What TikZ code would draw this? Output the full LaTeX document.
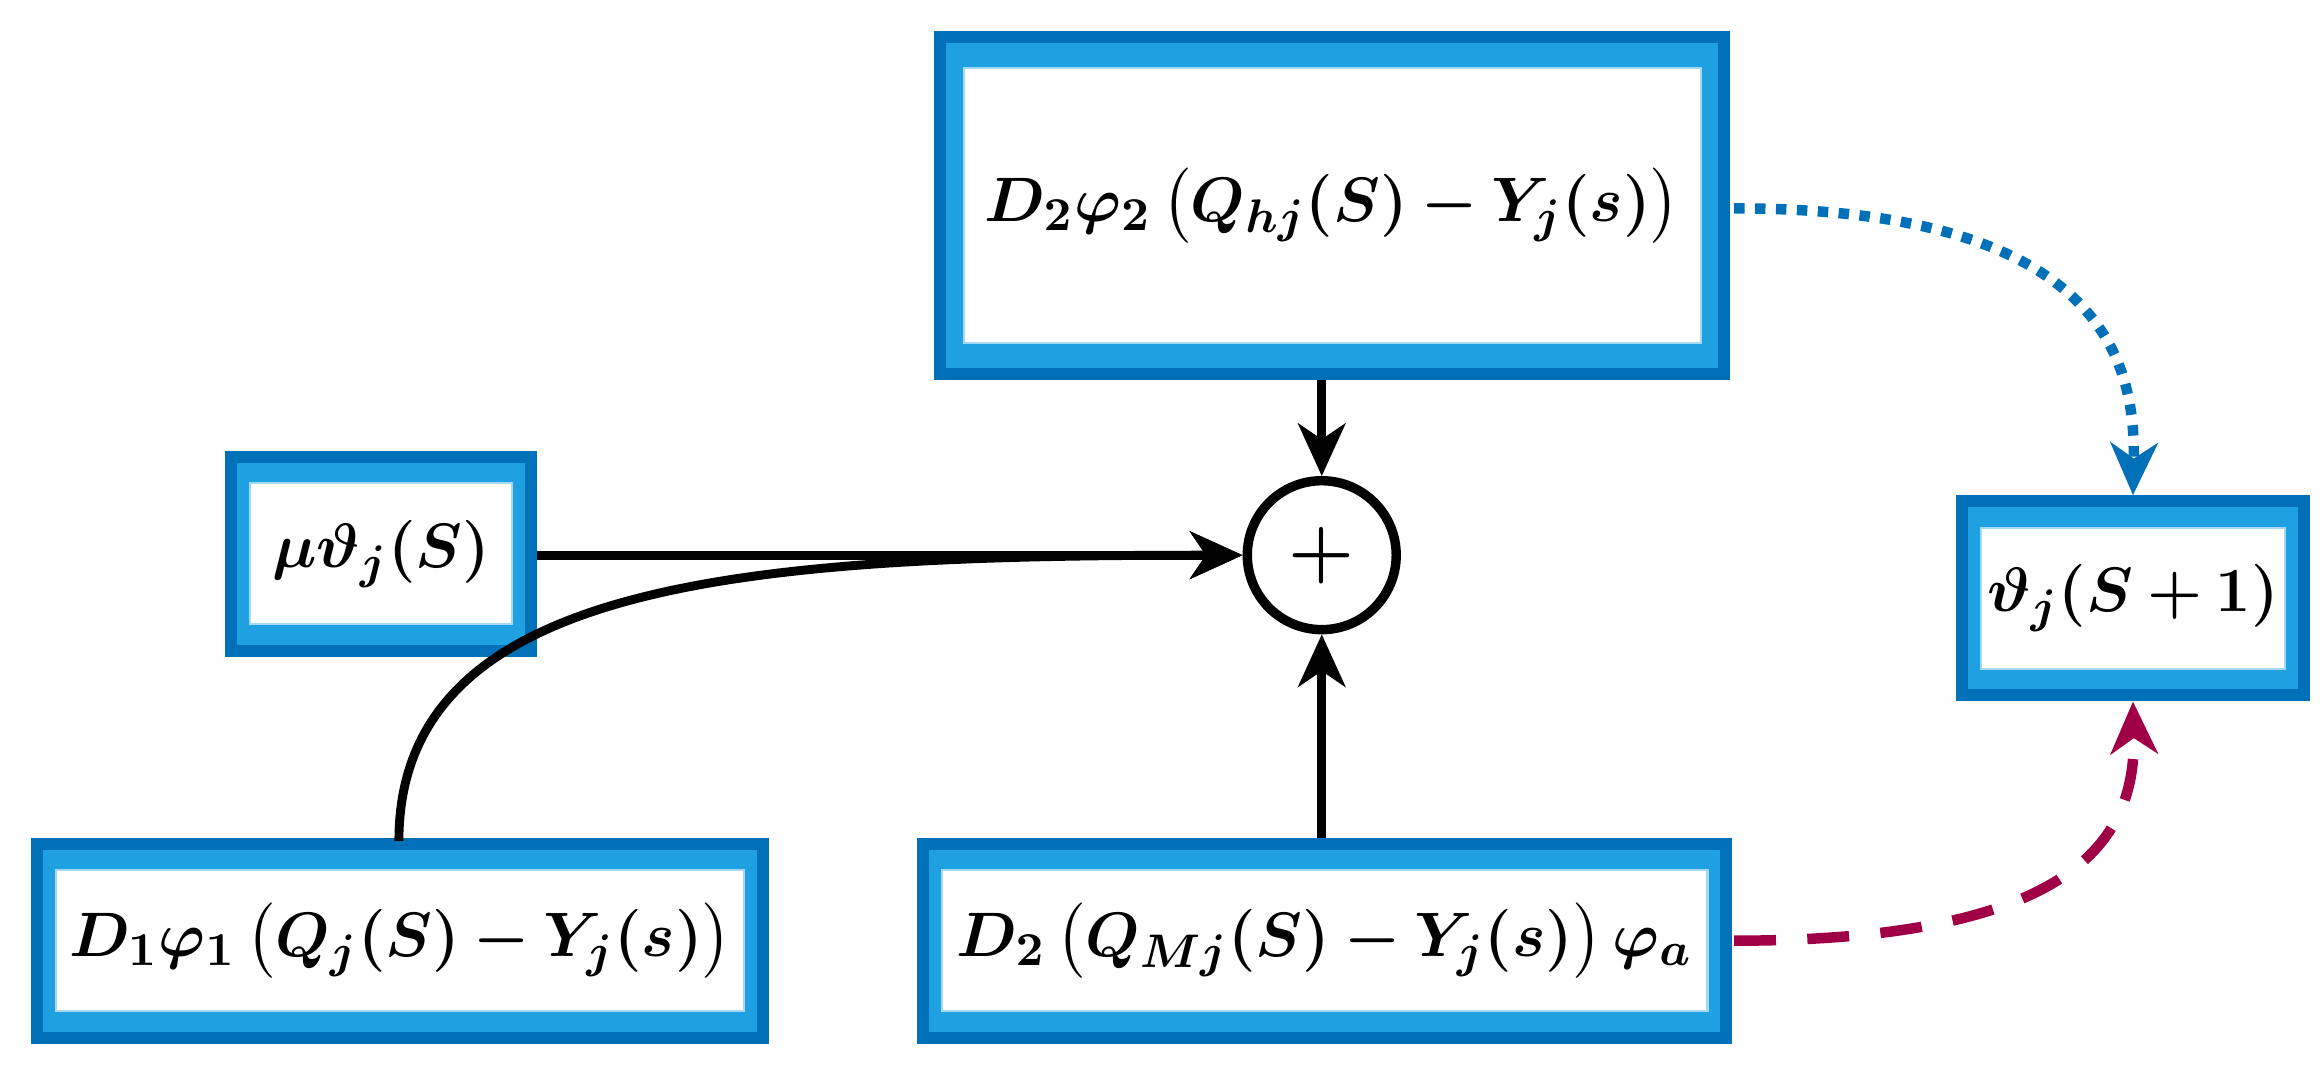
\documentclass[tikz,border=0pt]{standalone}
\usepackage{amsmath,bm}
\usetikzlibrary{arrows.meta,fit,backgrounds}
\definecolor{dblue}{RGB}{0,112,184}
\definecolor{lblue}{RGB}{30,160,225}
\definecolor{wine}{RGB}{160,0,70}
\begin{document}
\begin{tikzpicture}[x=0.01cm,y=-0.01cm,
  inner/.style={draw=lblue!40,line width=0.4pt,fill=white,inner sep=0pt,font=\fontsize{13}{15}\selectfont},
  outer/.style={draw=dblue,line width=2.3pt,fill=lblue,inner xsep=0.12cm,inner ysep=0.17cm},
  conn/.style={line width=1.7pt,-{Stealth[length=10pt,width=9pt,inset=3pt]}}]
\useasboundingbox (0,0) rectangle (1560,716);
\node[inner,minimum width=4.95cm,minimum height=1.85cm] (ti) at (895,138) {$\bm{D_2\varphi_2\left(Q_{hj}(S)-Y_j(s)\right)}$};
\node[inner,minimum width=1.76cm,minimum height=0.95cm] (mi) at (256,372) {$\bm{\mu\vartheta_j(S)}$};
\node[inner,minimum width=2.04cm,minimum height=0.95cm] (ri) at (1433,402) {$\bm{\vartheta_j(S+1)}$};
\node[inner,minimum width=4.62cm,minimum height=0.95cm] (ai) at (269,632) {$\bm{D_1\varphi_1\left(Q_j(S)-Y_j(s)\right)}$};
\node[inner,minimum width=5.14cm,minimum height=0.95cm] (bi) at (890,632) {$\bm{D_2\left(Q_{Mj}(S)-Y_j(s)\right)\varphi_a}$};
\begin{scope}[on background layer]
\node[outer,inner xsep=0.15cm,inner ysep=0.2cm,fit=(ti)] (top) {};
\node[outer,fit=(mi)] (mu) {};
\node[outer,fit=(ri)] (res) {};
\node[outer,fit=(ai)] (d1) {};
\node[outer,fit=(bi)] (d2) {};
\end{scope}
\node[circle,draw,line width=1.8pt,minimum size=1cm,inner sep=0pt,font=\Large] (sum) at (888,373) {$\bm{+}$};
\draw[conn] (top.south -| sum) -- (sum.north);
\draw[conn] (mu.east |- sum) -- (sum.west);
\draw[conn] (d2.north -| sum) -- (sum.south);
\draw[conn] (268,565) coordinate (s1) .. controls (268,390) and (500,373) .. (sum.west);
\coordinate (tp) at (1165,140);
\coordinate (dp) at (1165,632);
\draw[dblue,line width=2pt,dotted,-{Stealth[length=10pt,width=9pt,inset=3pt]}] (tp) .. controls (1410,140) and (1435,240) .. (res.north);
\draw[wine,line width=2pt,dash pattern=on 8pt off 6pt,-{Stealth[length=10pt,width=9pt,inset=3pt]}] (dp) .. controls (1400,632) and (1435,560) .. (res.south);
\end{tikzpicture}
\end{document}
